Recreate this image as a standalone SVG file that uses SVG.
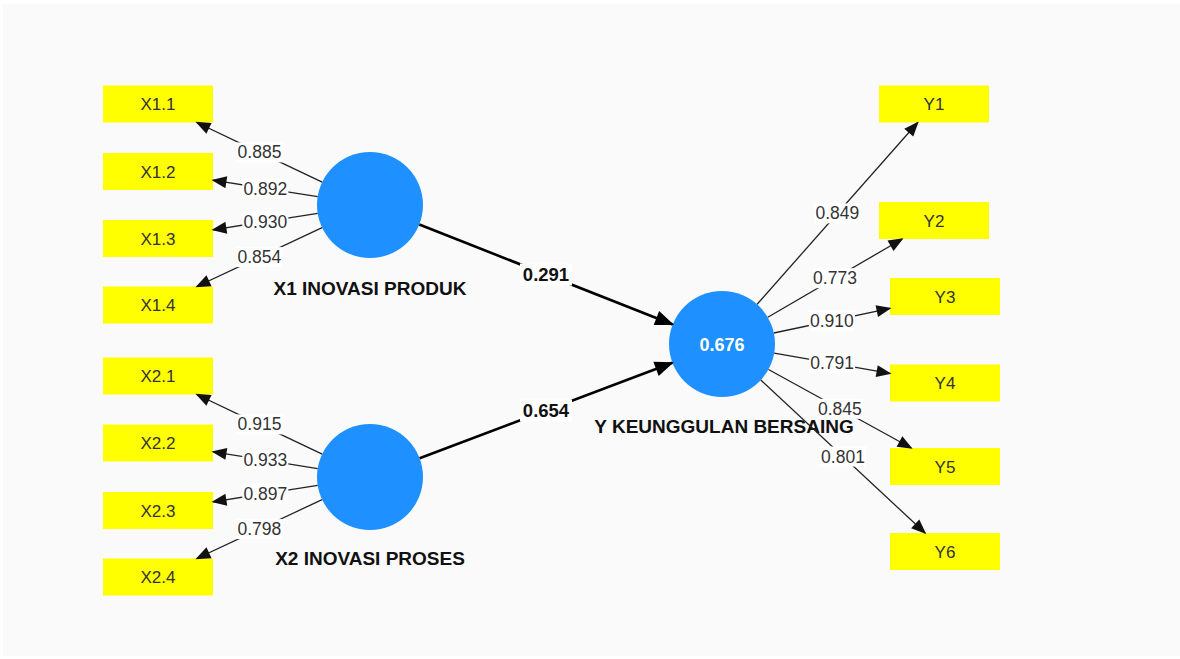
<svg xmlns="http://www.w3.org/2000/svg" width="1180" height="659" viewBox="0 0 1180 659">
<style>
.ind rect{fill:#ffff00}
.ind text{font-family:"Liberation Sans",Arial,sans-serif;font-size:17px;fill:#333;text-anchor:middle}
.lv circle{fill:#1e90ff}
.lv text.name{font-family:"Liberation Sans",Arial,sans-serif;font-size:19px;font-weight:bold;fill:#111;text-anchor:middle}
.lv text.r2{font-family:"Liberation Sans",Arial,sans-serif;font-size:18px;font-weight:bold;fill:#fff;text-anchor:middle}
.ld{stroke:#222;stroke-width:1.3;fill:none;marker-end:url(#al)}
.pc{stroke:#000;stroke-width:2.6;fill:none;marker-end:url(#ap)}
.lb rect{fill:#fff}
.lb text{font-family:"Liberation Sans",Arial,sans-serif;font-size:17.5px;fill:#333;text-anchor:middle}
.lbb rect{fill:#fff}
.lbb text{font-family:"Liberation Sans",Arial,sans-serif;font-size:18.5px;font-weight:bold;fill:#111;text-anchor:middle}
</style>
<defs>
<marker id="al" markerUnits="userSpaceOnUse" markerWidth="15" markerHeight="12" refX="13.5" refY="6" orient="auto" overflow="visible"><path d="M0,0 L15,6 L0,12 z" fill="#111"/></marker>
<marker id="ap" markerUnits="userSpaceOnUse" markerWidth="19" markerHeight="15" refX="17.5" refY="7.5" orient="auto" overflow="visible"><path d="M0,0 L19,7.5 L0,15 z" fill="#000"/></marker>
</defs>
<rect x="0" y="0" width="1180" height="659" fill="#fff"/>
<rect x="3" y="4" width="1177" height="652" fill="#fafafa"/>
<g id="nodes">
<g id="X1" class="lv"><circle cx="370" cy="205" r="53"/><text class="name" x="370" y="295">X1 INOVASI PRODUK</text></g>
<g id="X2" class="lv"><circle cx="370" cy="477" r="53"/><text class="name" x="370" y="565">X2 INOVASI PROSES</text></g>
<g id="Y" class="lv"><circle cx="722" cy="344" r="53"/><text class="r2" x="722" y="351">0.676</text><text class="name" x="724" y="433">Y KEUNGGULAN BERSAING</text></g>
<g id="X1.1" class="ind"><rect x="103" y="85.5" width="110" height="37"/><text x="158" y="110">X1.1</text></g>
<g id="X1.2" class="ind"><rect x="103" y="153" width="110" height="37"/><text x="158" y="177.5">X1.2</text></g>
<g id="X1.3" class="ind"><rect x="103" y="220" width="110" height="37"/><text x="158" y="244.5">X1.3</text></g>
<g id="X1.4" class="ind"><rect x="103" y="286.5" width="110" height="37"/><text x="158" y="311">X1.4</text></g>
<g id="X2.1" class="ind"><rect x="103" y="357.5" width="110" height="37"/><text x="158" y="382">X2.1</text></g>
<g id="X2.2" class="ind"><rect x="103" y="424.5" width="110" height="37"/><text x="158" y="449">X2.2</text></g>
<g id="X2.3" class="ind"><rect x="103" y="492" width="110" height="37"/><text x="158" y="516.5">X2.3</text></g>
<g id="X2.4" class="ind"><rect x="103" y="558.5" width="110" height="37"/><text x="158" y="583">X2.4</text></g>
<g id="Y1" class="ind"><rect x="879" y="85.5" width="110" height="37"/><text x="934" y="110">Y1</text></g>
<g id="Y2" class="ind"><rect x="879" y="202" width="110" height="37"/><text x="934" y="226.5">Y2</text></g>
<g id="Y3" class="ind"><rect x="890" y="278" width="110" height="37"/><text x="945" y="302.5">Y3</text></g>
<g id="Y4" class="ind"><rect x="890" y="364.5" width="110" height="37"/><text x="945" y="389">Y4</text></g>
<g id="Y5" class="ind"><rect x="890" y="448" width="110" height="37"/><text x="945" y="472.5">Y5</text></g>
<g id="Y6" class="ind"><rect x="890" y="533" width="110" height="37"/><text x="945" y="557.5">Y6</text></g>
</g>
<g id="connectors">
<path class="ld" d="M322.2,182.2 L196.8,122.5"/>
<path class="ld" d="M317.7,196.7 L213,180.2"/>
<path class="ld" d="M317.7,213.3 L213,229.8"/>
<path class="ld" d="M322.1,227.6 L196.8,286.5"/>
<path class="ld" d="M322.2,454.2 L196.8,394.5"/>
<path class="ld" d="M317.7,468.6 L213,451.8"/>
<path class="ld" d="M317.7,485.3 L213,501.8"/>
<path class="ld" d="M322.1,499.6 L196.8,558.5"/>
<path class="ld" d="M757.1,304.3 L917.7,122.5"/>
<path class="ld" d="M767.8,317.3 L902.2,239"/>
<path class="ld" d="M773.8,333 L890,308.3"/>
<path class="ld" d="M774.2,353.1 L890,373.4"/>
<path class="ld" d="M768.5,369.5 L911.3,448"/>
<path class="ld" d="M760.8,380.1 L925.1,533"/>
<path class="pc" d="M419.3,224.5 L672.7,324.5"/>
<path class="pc" d="M419.6,458.3 L672.4,362.7"/>
<g class="lb"><rect x="236.5" y="142.4" width="46" height="20"/><text x="259.5" y="158.4">0.885</text></g>
<g class="lb"><rect x="242.3" y="178.5" width="46" height="20"/><text x="265.3" y="194.5">0.892</text></g>
<g class="lb"><rect x="242.3" y="211.5" width="46" height="20"/><text x="265.3" y="227.5">0.930</text></g>
<g class="lb"><rect x="236.4" y="247.1" width="46" height="20"/><text x="259.4" y="263.1">0.854</text></g>
<g class="lb"><rect x="236.5" y="414.4" width="46" height="20"/><text x="259.5" y="430.4">0.915</text></g>
<g class="lb"><rect x="242.3" y="450.2" width="46" height="20"/><text x="265.3" y="466.2">0.933</text></g>
<g class="lb"><rect x="242.3" y="483.5" width="46" height="20"/><text x="265.3" y="499.5">0.897</text></g>
<g class="lb"><rect x="236.4" y="519.1" width="46" height="20"/><text x="259.4" y="535.1">0.798</text></g>
<g class="lb"><rect x="814.4" y="203.4" width="46" height="20"/><text x="837.4" y="219.4">0.849</text></g>
<g class="lb"><rect x="812" y="268.2" width="46" height="20"/><text x="835" y="284.2">0.773</text></g>
<g class="lb"><rect x="808.9" y="310.6" width="46" height="20"/><text x="831.9" y="326.6">0.910</text></g>
<g class="lb"><rect x="809.1" y="353.3" width="46" height="20"/><text x="832.1" y="369.3">0.791</text></g>
<g class="lb"><rect x="816.9" y="398.8" width="46" height="20"/><text x="839.9" y="414.8">0.845</text></g>
<g class="lb"><rect x="820" y="446.5" width="46" height="20"/><text x="843" y="462.5">0.801</text></g>
<g class="lbb"><rect x="520" y="263.5" width="52" height="22"/><text x="546" y="281">0.291</text></g>
<g class="lbb"><rect x="520" y="399.5" width="52" height="22"/><text x="546" y="417">0.654</text></g>
</g>
</svg>
